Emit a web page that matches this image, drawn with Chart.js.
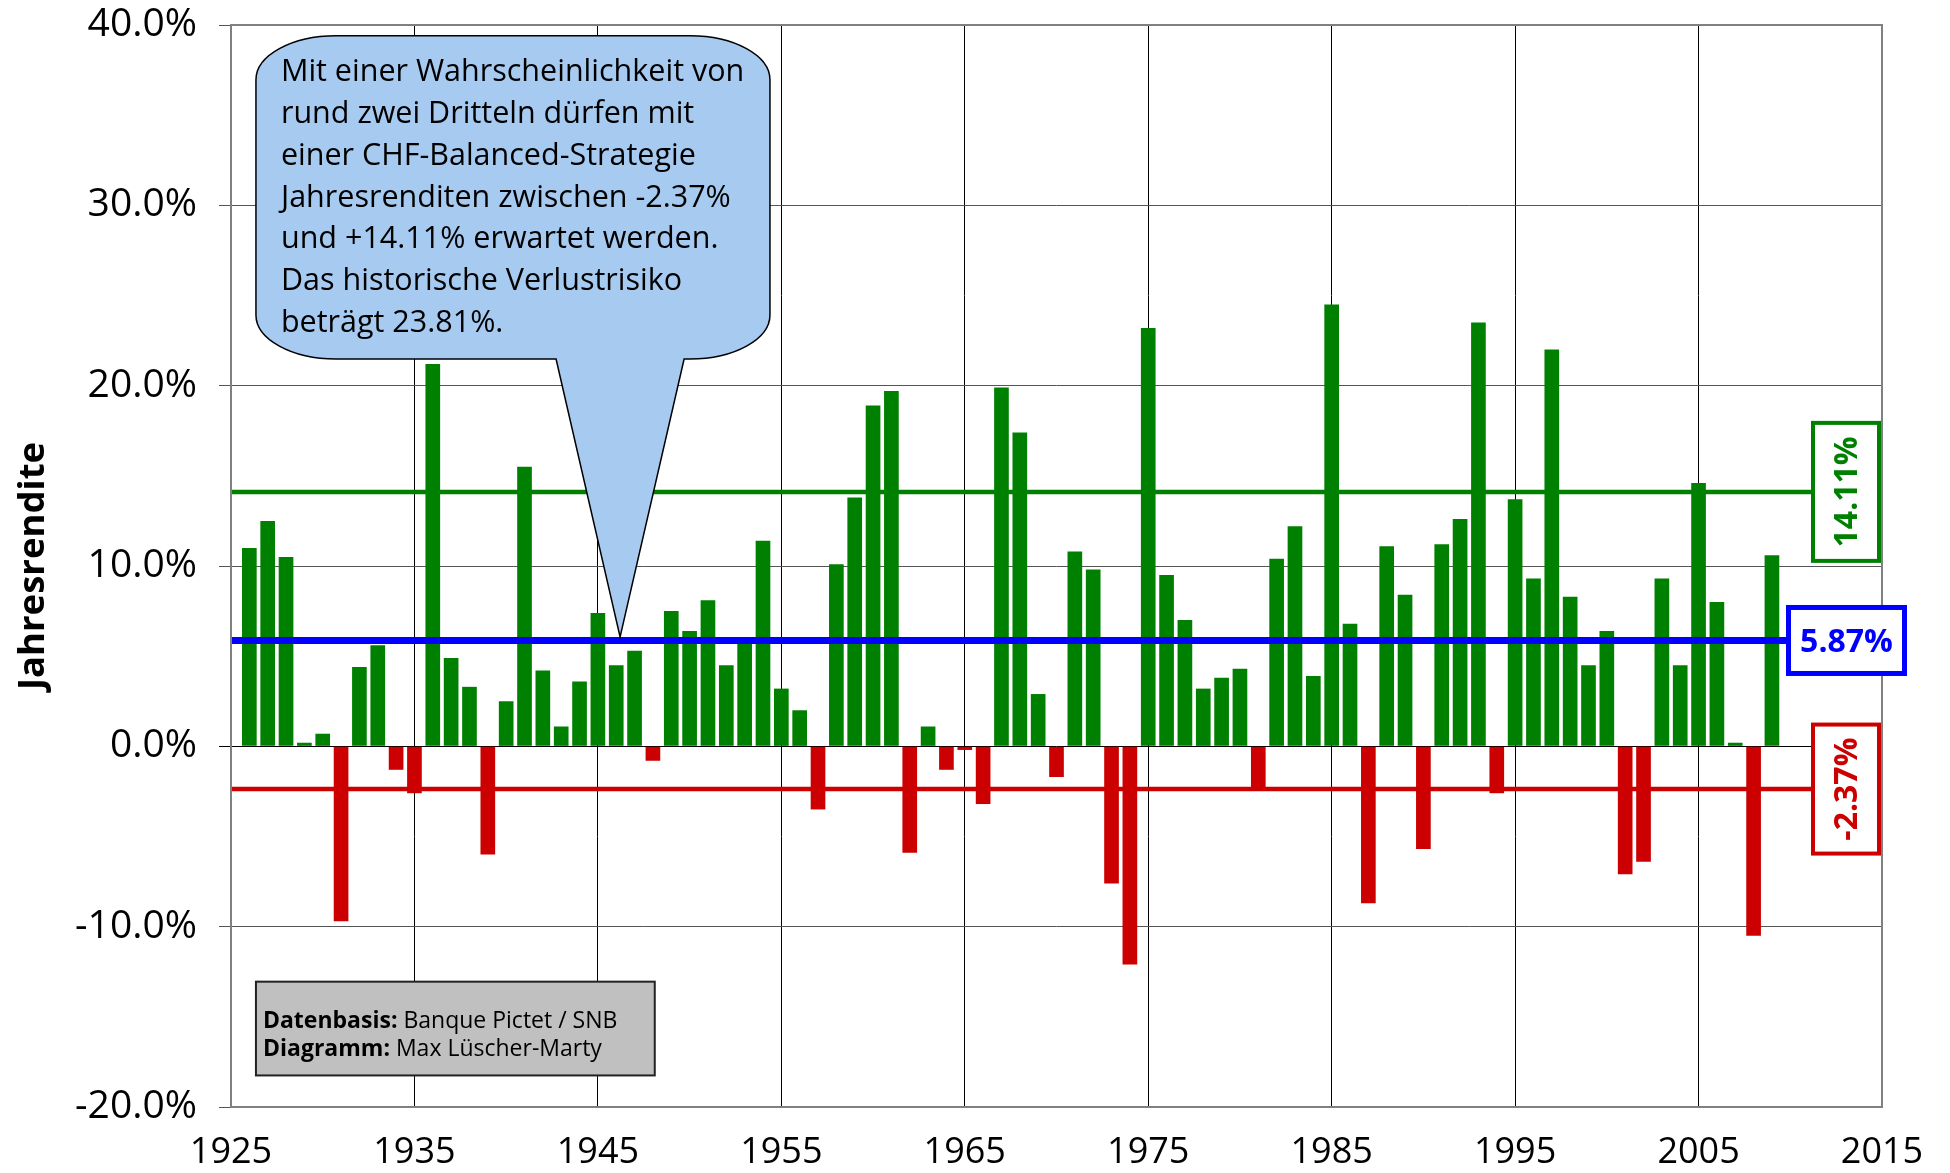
<!DOCTYPE html>
<html><head><meta charset="utf-8">
<script src="https://cdn.jsdelivr.net/npm/chart.js@4"></script>
<style>html,body{margin:0;padding:0;background:#fff}#wrap{width:1950px;height:1173px}</style>
</head><body><div id="wrap"><canvas id="c" width="1950" height="1173"></canvas></div>
<script>
const years = [1926,1927,1928,1929,1930,1931,1932,1933,1934,1935,
  1936,1937,1938,1939,1940,1941,1942,1943,1944,1945,
  1946,1947,1948,1949,1950,1951,1952,1953,1954,1955,
  1956,1957,1958,1959,1960,1961,1962,1963,1964,1965,
  1966,1967,1968,1969,1970,1971,1972,1973,1974,1975,
  1976,1977,1978,1979,1980,1981,1982,1983,1984,1985,
  1986,1987,1988,1989,1990,1991,1992,1993,1994,1995,
  1996,1997,1998,1999,2000,2001,2002,2003,2004,2005,
  2006,2007,2008,2009];
const returns = [11.0,12.5,10.5,0.2,0.7,-9.7,4.4,5.6,-1.3,-2.6,
  21.2,4.9,3.3,-6.0,2.5,15.5,4.2,1.1,3.6,7.4,
  4.5,5.3,-0.8,7.5,6.4,8.1,4.5,5.7,11.4,3.2,
  2.0,-3.5,10.1,13.8,18.9,19.7,-5.9,1.1,-1.3,-0.2,
  -3.2,19.9,17.4,2.9,-1.7,10.8,9.8,-7.6,-12.1,23.2,
  9.5,7.0,3.2,3.8,4.3,-2.3,10.4,12.2,3.9,24.5,
  6.8,-8.7,11.1,8.4,-5.7,11.2,12.6,23.5,-2.6,13.7,
  9.3,22.0,8.3,4.5,6.4,-7.1,-6.4,9.3,4.5,14.6,
  8.0,0.2,-10.5,10.6];
const meanReturn = 5.87;
const upperBound = 14.11;
const lowerBound = -2.37;
const xTicks = [1925,1935,1945,1955,1965,1975,1985,1995,2005,2015];
const yTicks = [-20,-10,0,10,20,30,40];
const yAxisTitle = "Jahresrendite";
const calloutLines = [
  "Mit einer Wahrscheinlichkeit von",
  "rund zwei Dritteln dürfen mit",
  "einer CHF-Balanced-Strategie",
  "Jahresrenditen zwischen -2.37%",
  "und +14.11% erwartet werden.",
  "Das historische Verlustrisiko",
  "beträgt 23.81%."
];
const sourceLines = [["Datenbasis:", " Banque Pictet / SNB"], ["Diagramm:", " Max Lüscher-Marty"]];

const GREEN = '#008000', RED = '#CC0000', BLUE = '#0000FF';
const FONT = "'Open Sans', 'DejaVu Sans', sans-serif";

const overlay = {
  id: 'overlay',
  afterDatasetsDraw(chart) {
    const ctx = chart.ctx, a = chart.chartArea;
    const xs = chart.scales.x, ys = chart.scales.y;
    ctx.save();
    // plot border
    ctx.strokeStyle = '#808080'; ctx.lineWidth = 2;
    ctx.strokeRect(a.left, a.top, a.right - a.left, a.bottom - a.top);

    // y axis title
    ctx.save();
    ctx.translate(31.5, (a.top + a.bottom) / 2);
    ctx.rotate(-Math.PI / 2);
    ctx.font = "bold 36.5px " + FONT;
    ctx.fillStyle = '#000'; ctx.textAlign = 'center'; ctx.textBaseline = 'alphabetic';
    ctx.fillText(yAxisTitle, 0, 12.5);
    ctx.restore();

    // right labels
    function box(x1, x2, value, h, color, lw, rotated) {
      const cy = ys.getPixelForValue(value);
      ctx.fillStyle = '#fff';
      ctx.fillRect(x1, cy - h / 2, x2 - x1, h);
      ctx.strokeStyle = color; ctx.lineWidth = lw;
      ctx.strokeRect(x1 + lw / 2, cy - h / 2 + lw / 2, x2 - x1 - lw, h - lw);
      const size = 32;
      ctx.font = "bold " + size + "px " + FONT;
      ctx.fillStyle = color; ctx.textAlign = 'center'; ctx.textBaseline = 'alphabetic';
      const cx = (x1 + x2) / 2;
      const txt = value.toFixed(2) + '%';
      if (rotated) {
        ctx.save(); ctx.translate(cx, cy); ctx.rotate(-Math.PI / 2);
        ctx.fillText(txt, 0, size * 0.357); ctx.restore();
      } else {
        ctx.fillText(txt, cx, cy + size * 0.357);
      }
    }
    box(1811, 1881, upperBound, 142, GREEN, 4, true);
    box(1786, 1907, meanReturn, 71, BLUE, 5, false);
    box(1811, 1881, lowerBound, 133, RED, 4, true);

    // callout
    const L = xs.getPixelForValue(1926.36), R = xs.getPixelForValue(1954.38);
    const T = ys.getPixelForValue(39.4), B = ys.getPixelForValue(21.48);
    const pl = xs.getPixelForValue(1942.72), pr = xs.getPixelForValue(1949.70);
    const tx = xs.getPixelForValue(1946.21), ty = ys.getPixelForValue(6.07);
    const rx = 80, ry = 44, k = 0.5523;
    ctx.beginPath();
    ctx.moveTo(L + rx, T);
    ctx.lineTo(R - rx, T);
    ctx.bezierCurveTo(R - rx + rx * k, T, R, T + ry - ry * k, R, T + ry);
    ctx.lineTo(R, B - ry);
    ctx.bezierCurveTo(R, B - ry + ry * k, R - rx + rx * k, B, R - rx, B);
    ctx.lineTo(pr, B);
    ctx.lineTo(tx, ty);
    ctx.lineTo(pl, B);
    ctx.lineTo(L + rx, B);
    ctx.bezierCurveTo(L + rx - rx * k, B, L, B - ry + ry * k, L, B - ry);
    ctx.lineTo(L, T + ry);
    ctx.bezierCurveTo(L, T + ry - ry * k, L + rx - rx * k, T, L + rx, T);
    ctx.closePath();
    ctx.fillStyle = '#A6CAF0'; ctx.fill();
    ctx.strokeStyle = '#000'; ctx.lineWidth = 1.5; ctx.stroke();
    ctx.fillStyle = '#000'; ctx.font = "30.5px " + FONT;
    ctx.textAlign = 'left'; ctx.textBaseline = 'alphabetic';
    calloutLines.forEach((s, i) => ctx.fillText(s, L + 25, T + 45 + i * 41.9));

    // source box
    const sx1 = xs.getPixelForValue(1926.36), sx2 = xs.getPixelForValue(1948.1);
    const sy1 = ys.getPixelForValue(-13.05), sy2 = ys.getPixelForValue(-18.25);
    ctx.fillStyle = '#C0C0C0';
    ctx.fillRect(sx1, sy1, sx2 - sx1, sy2 - sy1);
    ctx.strokeStyle = '#222'; ctx.lineWidth = 2;
    ctx.strokeRect(sx1, sy1, sx2 - sx1, sy2 - sy1);
    ctx.fillStyle = '#000';
    sourceLines.forEach((pair, i) => {
      const by = sy1 + 46 + i * 28;
      ctx.font = "bold 23px " + FONT;
      ctx.fillText(pair[0], sx1 + 7, by);
      const w = ctx.measureText(pair[0]).width;
      ctx.font = "23px " + FONT;
      ctx.fillText(pair[1], sx1 + 7 + w, by);
    });
    ctx.restore();
  }
};

const lineDs = (v, color, w) => ({
  type: 'line',
  data: [{x: xTicks[0], y: v}, {x: xTicks[xTicks.length - 1], y: v}],
  borderColor: color, borderWidth: w, pointRadius: 0, fill: false, order: 1
});

new Chart(document.getElementById('c'), {
  type: 'bar',
  data: {
    datasets: [
      lineDs(upperBound, GREEN, 4.5),
      lineDs(meanReturn, BLUE, 7),
      lineDs(lowerBound, RED, 4.5),
      {
        type: 'bar',
        data: years.map((yr, i) => ({x: yr, y: returns[i]})),
        backgroundColor: returns.map(v => v >= 0 ? GREEN : RED),
        borderWidth: 0,
        barPercentage: 0.8,
        categoryPercentage: 1.0,
        order: 2
      }
    ]
  },
  options: {
    responsive: false,
    animation: false,
    devicePixelRatio: 1,
    layout: { padding: { left: 0, top: 25, right: 68, bottom: 0 } },
    plugins: { legend: { display: false }, tooltip: { enabled: false }, title: { display: false } },
    scales: {
      x: {
        type: 'linear', min: xTicks[0], max: xTicks[xTicks.length - 1], offset: false,
        afterBuildTicks: s => { s.ticks = xTicks.map(v => ({value: v})); },
        afterFit: s => { s.height = 66; s.paddingLeft = 0; s.paddingRight = 0; },
        ticks: { callback: v => String(v), font: { family: FONT, size: 36 }, color: '#000', padding: 24, maxRotation: 0, autoSkip: false },
        grid: { color: '#000', lineWidth: 1, drawTicks: false, offset: false },
        border: { display: false }
      },
      y: {
        min: yTicks[0], max: yTicks[yTicks.length - 1],
        afterBuildTicks: s => { s.ticks = yTicks.map(v => ({value: v})); },
        afterFit: s => { s.width = 231; s.paddingTop = 0; s.paddingBottom = 0; },
        ticks: { callback: v => v.toFixed(1) + '%', font: { family: FONT, size: 39 }, color: '#000', padding: 22 },
        grid: { color: c => (c.tick && c.tick.value === 0) ? '#000' : '#555', lineWidth: 1, tickLength: 12 },
        border: { display: false }
      }
    }
  },
  plugins: [overlay]
});
</script></body></html>
